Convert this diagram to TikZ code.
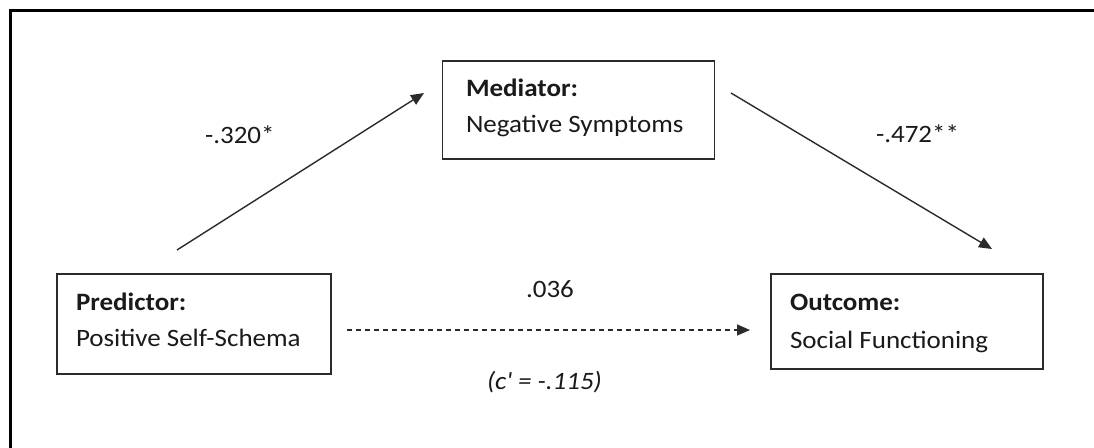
\documentclass[tikz,border=0pt]{standalone}
\usepackage{fontspec}
\setmainfont{Carlito}[FakeStretch=1.08]
\usetikzlibrary{arrows.meta}
\definecolor{ink}{HTML}{1A1A1A}
\definecolor{edge}{HTML}{2B2B2B}
\tikzset{
  varbox/.style={draw=edge, line width=1.4pt, rectangle, inner sep=0pt, outer sep=0pt},
  txt/.style={anchor=base west, inner sep=0pt, outer sep=0pt, text=ink, font=\fontsize{25}{30}\selectfont},
  path/.style={draw=edge, line width=1.4pt, -{Triangle[length=13pt,width=11pt]}},
  weakpath/.style={path, dash pattern=on 5pt off 4pt}
}
\begin{document}
\begin{tikzpicture}[x=1pt, y=-1pt]
  \useasboundingbox (0,0) rectangle (1094,447);
  \clip (0,0) rectangle (1094,447);
  \fill[white] (0,0) rectangle (1094,447);

  % outer frame (continues past the right and bottom edges)
  \draw[line width=3pt, black] (10.5,470) -- (10.5,10) -- (1120,10);

  % variable boxes
  \node[varbox, minimum width=272pt, minimum height=98pt] (med) at (578.5,110) {};
  \node[varbox, minimum width=274pt, minimum height=100pt] (pred) at (194,324) {};
  \node[varbox, minimum width=272pt, minimum height=95pt] (out) at (907,321.5) {};

  % box texts
  \node[txt] (medh) at (466,96) {\textbf{Mediator:}};
  \node[txt] (medb) at (466,132) {Negative Symptoms};
  \node[txt] (predh) at (76,310) {\textbf{Predictor:}};
  \node[txt] (predb) at (76,346) {Positive Self-Schema};
  \node[txt] (outh) at (790,310) {\textbf{Outcome:}};
  \node[txt] (outb) at (790,348) {Social Functioning};

  % path end points
  \coordinate (a0) at (177,250);
  \coordinate (a1) at (424,93);
  \coordinate (b0) at (731,93);
  \coordinate (b1) at (992,249);
  \coordinate (c0) at (347,330);
  \coordinate (c1) at (750,330);

  \draw[path] (a0) -- (a1);
  \draw[path] (b0) -- (b1);
  \draw[weakpath] (c0) -- (c1);

  % coefficients
  \node[txt] (la) at (205,143) {-.320*};
  \node[txt] (lb) at (876,142) {-.472**};
  \node[txt] (lc) at (526,297) {.036};
  \node[txt] (ld) at (487,389) {\itshape (c\textquotesingle{} = -.115)};
\end{tikzpicture}
\end{document}
